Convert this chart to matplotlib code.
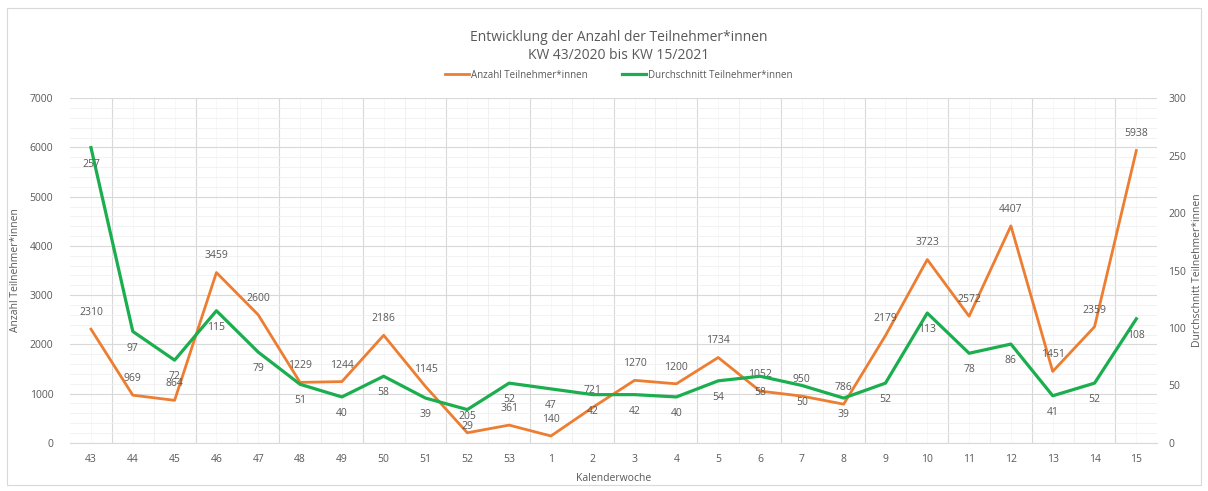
import numpy as np
import matplotlib.pyplot as plt
from matplotlib.patches import Rectangle
from matplotlib.ticker import MultipleLocator

#---------data-----------------------------
weeks = ['43', '44', '45', '46', '47', '48', '49', '50', '51', '52', '53',
         '1', '2', '3', '4', '5', '6', '7', '8', '9', '10', '11', '12', '13', '14', '15']
anzahl = [2310, 969, 864, 3459, 2600, 1229, 1244, 2186, 1145, 205, 361,
          140, 721, 1270, 1200, 1734, 1052, 950, 786, 2179, 3723, 2572, 4407, 1451, 2359, 5938]
durchschnitt = [257, 97, 72, 115, 79, 51, 40, 58, 39, 29, 52,
                47, 42, 42, 40, 54, 58, 50, 39, 52, 113, 78, 86, 41, 52, 108]

orange = '#ED7D31'
green = '#1AAE4F'
grey_txt = '#595959'

plt.rcParams['font.family'] = ['Open Sans', 'DejaVu Sans']

fig = plt.figure(figsize=(12.08, 4.91), dpi=100)
ax = fig.add_axes([0.058, 0.098, 0.9, 0.702])
ax2 = ax.twinx()

x = np.arange(len(weeks))

#---------grid----------
ax.set_xlim(-0.5, len(weeks) - 0.5)
ax.set_ylim(0, 7000)
ax.yaxis.set_major_locator(MultipleLocator(1000))
ax.yaxis.set_minor_locator(MultipleLocator(200))
ax.grid(axis='y', which='major', color='#D9D9D9', lw=0.8)
ax.grid(axis='y', which='minor', color='#F0F0F0', lw=0.6)
for b in np.arange(-0.5, len(weeks), 1.0):
    if b <= -0.5 or b >= len(weeks) - 0.5:
        continue
    if int(b + 0.5) % 2 == 1:
        ax.axvline(b, color='#D9D9D9', lw=0.8, zorder=0)
    else:
        ax.axvline(b, color='#EEEEEE', lw=0.6, zorder=0)
for c in x:
    ax.axvline(c, color='#F4F4F4', lw=0.5, zorder=0)
ax.set_axisbelow(True)

#---------lines----------
l1, = ax.plot(x, anzahl, color=orange, lw=2.0, label='Anzahl Teilnehmer*innen', zorder=3)
l2, = ax2.plot(x, durchschnitt, color=green, lw=2.3, label='Durchschnitt Teilnehmer*innen', zorder=3)
ax2.set_ylim(0, 300)
ax2.yaxis.set_major_locator(MultipleLocator(50))

for xi, v in zip(x, anzahl):
    ax.annotate(str(v), (xi, v), xytext=(0, 8), textcoords='offset points',
                ha='center', va='bottom', fontsize=7.5, color=grey_txt, zorder=5)
for xi, v in zip(x, durchschnitt):
    ax2.annotate(str(v), (xi, v), xytext=(0, -8), textcoords='offset points',
                 ha='center', va='top', fontsize=7.5, color=grey_txt, zorder=5)

#---------axes style----------
ax.set_xticks(x)
ax.set_xticklabels(weeks)
for a in (ax, ax2):
    for s in a.spines.values():
        s.set_visible(False)
    a.tick_params(which='both', length=0, labelsize=7.5, colors=grey_txt)
ax.spines['bottom'].set_visible(True)
ax.spines['bottom'].set_color('#D9D9D9')
ax.tick_params(axis='x', pad=8)
ax.tick_params(axis='y', pad=12)
ax2.tick_params(axis='y', pad=8)

ax.set_xlabel('Kalenderwoche', fontsize=7.5, color=grey_txt, labelpad=6)
ax.set_ylabel('Anzahl Teilnehmer*innen', fontsize=7.5, color=grey_txt, labelpad=6)
ax2.set_ylabel('Durchschnitt Teilnehmer*innen', fontsize=7.5, color=grey_txt, labelpad=4)

fig.text(0.512, 0.905, 'Entwicklung der Anzahl der Teilnehmer*innen\nKW 43/2020 bis KW 15/2021',
         ha='center', va='center', fontsize=10, color=grey_txt, linespacing=1.3)
fig.legend(handles=[l1, l2], loc='center', bbox_to_anchor=(0.512, 0.847), ncol=2,
           frameon=False, fontsize=7, labelcolor=grey_txt, handlelength=2.5,
           handletextpad=0.2, columnspacing=3.5)

# light frame round the chart
fig.patches.append(Rectangle((0.006, 0.012), 0.988, 0.972, transform=fig.transFigure,
                             fill=False, edgecolor='#D9D9D9', lw=0.8))

fig.savefig('out.png', dpi=100, facecolor='white')
